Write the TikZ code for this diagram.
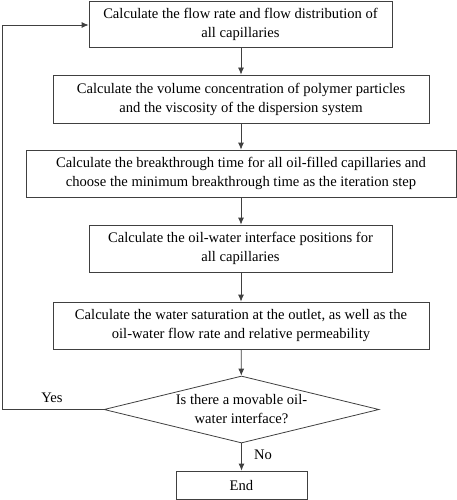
\documentclass[tikz,border=0pt]{standalone}
\usepackage{fontspec}
\setmainfont{Liberation Serif}
\usetikzlibrary{shapes.geometric, arrows.meta}
\tikzset{>={Latex[length=7pt, width=6pt]}}
\definecolor{mygray}{RGB}{64, 64, 64}
\tikzset{stepbox/.style = {draw = mygray, align = center, inner sep = 0pt,
  font = \fontsize{14.6}{19}\selectfont},
  decision/.style = {stepbox, diamond, aspect = 4.1},
  link/.style = {->, draw = mygray}}

\begin{document}
\begin{tikzpicture}[x = 1pt, y = -1pt, line width = 0.8pt]
\useasboundingbox (0, 0) rectangle (457, 500);

% Steps of one iteration
\node[stepbox, minimum width = 303pt, minimum height = 46pt] (flow) at (240.5, 24)
  {Calculate the flow rate and flow distribution of\\all capillaries};
\node[stepbox, minimum width = 376pt, minimum height = 48pt] (conc) at (241, 99)
  {Calculate the volume concentration of polymer particles\\and the viscosity of the dispersion system};
\node[stepbox, minimum width = 430pt, minimum height = 47pt] (btime) at (241, 173.5)
  {Calculate the breakthrough time for all oil-filled capillaries and\\choose the minimum breakthrough time as the iteration step};
\node[stepbox, minimum width = 303pt, minimum height = 47pt] (iface) at (240.5, 248.5)
  {Calculate the oil-water interface positions for\\all capillaries};
\node[stepbox, minimum width = 376pt, minimum height = 47pt] (satur) at (241, 325.5)
  {Calculate the water saturation at the outlet, as well as the\\oil-water flow rate and relative permeability};
\node[decision, minimum width = 275pt, minimum height = 67pt] (move) at (241.5, 409.5)
  {Is there a movable oil-\\water interface?};
\node[stepbox, minimum width = 131pt, minimum height = 28pt] (end) at (241.5, 485) {End};

\coordinate (back) at (2, 409.5);
\coordinate (top) at (2, 25);

% Connectors
\draw[link] (flow.south -| conc.north) -- (conc.north);
\draw[link] (conc) -- (btime);
\draw[link] (btime) -- (iface.north -| btime.south);
\draw[link] (iface.south -| satur.north) -- (satur);
\draw[link] (satur) -- (move);
\draw[link] (move) -- (end);
\draw[link] (move.west) -- (back) -- (top) -- (top -| flow.west);

\node[font = \fontsize{14.6}{17}\selectfont] (yes) at (52, 398) {Yes};
\node[font = \fontsize{14.6}{17}\selectfont] (no) at (263, 455) {No};
\end{tikzpicture}
\end{document}
